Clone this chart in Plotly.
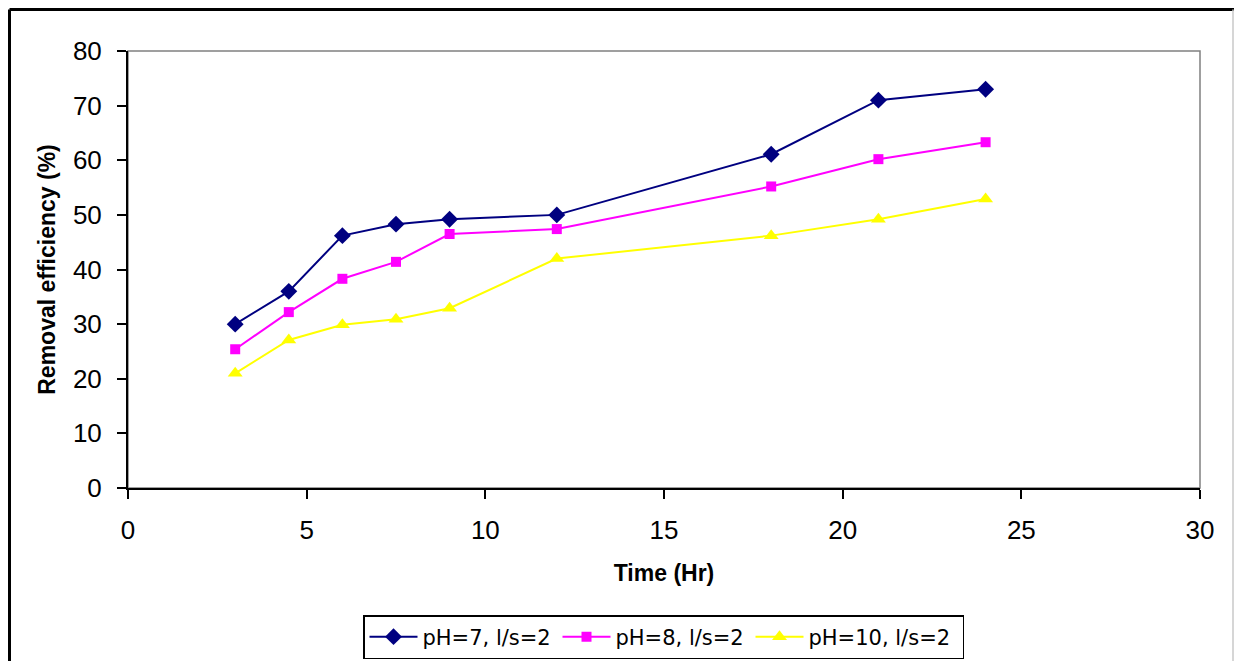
import plotly.graph_objects as go

time_hr = [3, 4.5, 6, 7.5, 9, 12, 18, 21, 24]
ph7 = [30.0, 36.0, 46.2, 48.3, 49.2, 50.0, 61.1, 71.0, 73.0]
ph8 = [25.4, 32.2, 38.3, 41.4, 46.5, 47.4, 55.2, 60.2, 63.3]
ph10 = [21.0, 27.1, 29.9, 30.9, 32.9, 42.0, 46.2, 49.2, 52.9]
names = ["pH=7, l/s=2", "pH=8, l/s=2", "pH=10, l/s=2"]

W, H = 1234, 661
L, R, T, B = 128, 34, 51, 173
pw, ph = W - L - R, H - T - B

def px(x):
    return (x - L) / pw

def py(y):
    return (H - B - y) / ph

fig = go.Figure()
fig.add_trace(go.Scatter(x=time_hr, y=ph7, name=names[0], mode="lines+markers",
                         line=dict(color="#000080", width=2), legendwidth=130,
                         marker=dict(symbol="diamond", size=13, color="#000080")))
fig.add_trace(go.Scatter(x=time_hr, y=ph8, name=names[1], mode="lines+markers",
                         line=dict(color="#FF00FF", width=2), legendwidth=130,
                         marker=dict(symbol="square", size=10, color="#FF00FF")))
fig.add_trace(go.Scatter(x=time_hr, y=ph10, name=names[2], mode="lines+markers",
                         line=dict(color="#FFFF00", width=2), legendwidth=149,
                         marker=dict(symbol="triangle-up", size=13, color="#FFFF00")))

arial = "Liberation Sans, Arial, sans-serif"

fig.update_layout(
    width=W, height=H,
    margin=dict(l=L, r=R, t=T, b=B, autoexpand=False),
    paper_bgcolor="white", plot_bgcolor="white",
    font=dict(family=arial, size=20, color="black"),
    showlegend=True,
    legend=dict(orientation="h", x=px(363), xanchor="left", y=py(615), yanchor="top",
                bordercolor="black", borderwidth=1.5,
                font=dict(family="DejaVu Sans, sans-serif", size=21, color="black"),
                itemwidth=48, tracegroupgap=0, bgcolor="white"),
    xaxis=dict(range=[0, 30], dtick=5, showgrid=False, zeroline=False,
               showline=True, linecolor="black", linewidth=2,
               ticks="outside", ticklen=9, tickwidth=1.5, tickcolor="black",
               tickfont=dict(family=arial, size=26), ticklabelstandoff=9,
               title=dict(text="<b>Time (Hr)</b>", font=dict(family=arial, size=23), standoff=21)),
    yaxis=dict(range=[0, 80], dtick=10, showgrid=False, zeroline=False,
               showline=True, linecolor="black", linewidth=2,
               ticks="outside", ticklen=9, tickwidth=1.5, tickcolor="black",
               tickfont=dict(family=arial, size=26), ticklabelstandoff=10,
               title=dict(text="<b>Removal efficiency (%)</b>", font=dict(family=arial, size=23), standoff=11)),
    shapes=[
        dict(type="rect", xref="paper", yref="paper", x0=0, x1=1, y0=0, y1=1,
             line=dict(color="#808080", width=1.5), layer="below"),
        dict(type="line", xref="paper", yref="paper", x0=px(9.5), x1=px(1234), y0=py(9.5), y1=py(9.5),
             line=dict(color="black", width=3)),
        dict(type="line", xref="paper", yref="paper", x0=px(9.5), x1=px(9.5), y0=py(9.5), y1=py(700),
             line=dict(color="black", width=3)),
        dict(type="line", xref="paper", yref="paper", x0=px(1233), x1=px(1233), y0=py(9.5), y1=py(700),
             line=dict(color="#C8C8C8", width=1.5)),
    ],
)

fig.write_html("out.html")
